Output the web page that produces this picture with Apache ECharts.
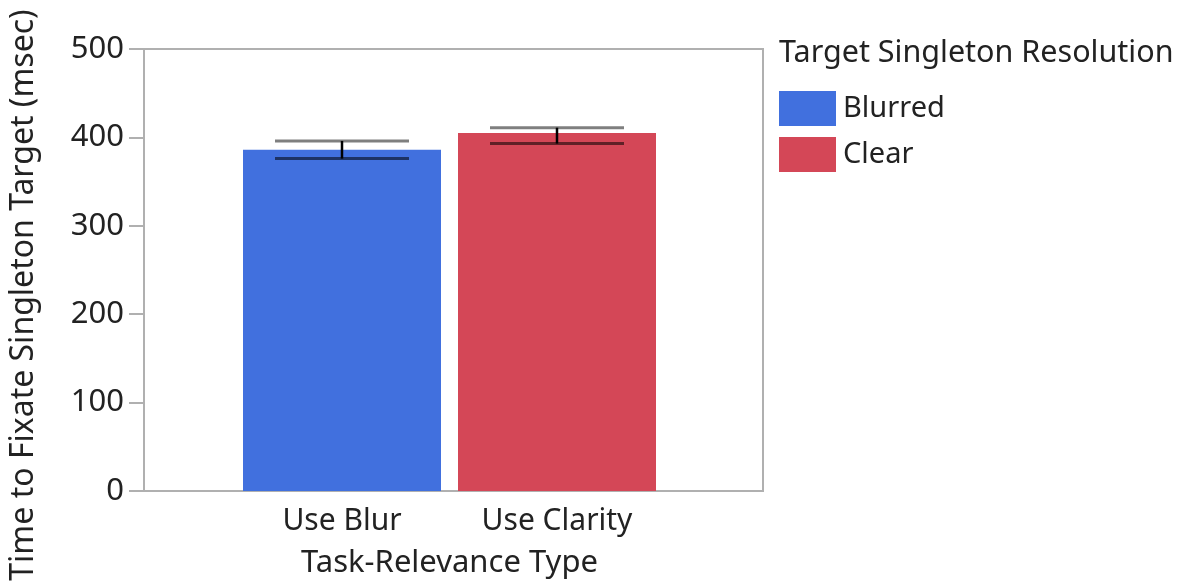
<!DOCTYPE html>
<html>
<head>
<meta charset="utf-8">
<script src="https://cdn.jsdelivr.net/npm/echarts@6/dist/echarts.min.js"></script>
<style>
  html, body { margin: 0; padding: 0; background: #fff; }
  #chart { width: 1185px; height: 584px; }
</style>
</head>
<body>
<div id="chart"></div>
<script>
// task types on x axis
const categories = ['Use Blur', 'Use Clarity'];
// one bar per task type
const seriesNames = ['Blurred', 'Clear'];
const meanValues = [386, 405];
// error bar ends (msec)
const errLow = [376, 393];
const errHigh = [396, 411];
const yTicks = [0, 100, 200, 300, 400, 500];

const colors = ['#4170de', '#d44757'];
const font = '"Noto Sans", sans-serif';

const chart = echarts.init(document.getElementById('chart'));

let barSeries = seriesNames.map(function (name, i) {
  let data = categories.map(function (c, j) { return j === i ? meanValues[i] : '-'; });
  return {
    name: name,
    type: 'bar',
    xAxisIndex: 1,
    yAxisIndex: 1,
    data: data,
    barWidth: 198,
    barGap: '-100%',
    itemStyle: { color: colors[i] },
    silent: true
  };
});

const errData = categories.map(function (c, i) { return [i, errLow[i], errHigh[i]]; });

chart.setOption({
  animation: false,
  textStyle: { fontFamily: font },
  legend: {
    orient: 'vertical',
    left: 774,
    top: 86,
    itemWidth: 57,
    itemHeight: 35,
    itemGap: 11,
    icon: 'rect',
    data: seriesNames,
    textStyle: { fontSize: 29, color: '#222', fontFamily: font, padding: [2, 0, 0, 2] }
  },
  title: {
    text: 'Target Singleton Resolution',
    left: 774,
    top: 33,
    textStyle: { fontSize: 30.5, fontWeight: 'normal', color: '#222', fontFamily: font }
  },
  grid: [
    // frame grid
    { left: 143, right: 422, top: 49, bottom: 93, show: true, borderColor: '#b0b0b0', borderWidth: 2 },
    // bar grid
    { left: 234.5, width: 430, top: 49, bottom: 93 }
  ],
  xAxis: [
    {
      gridIndex: 0,
      type: 'value',
      min: 0,
      max: 1,
      axisLine: { show: true, onZero: false, lineStyle: { color: '#b0b0b0', width: 2 } },
      axisTick: { show: false },
      axisLabel: { show: false },
      splitLine: { show: false }
    },
    {
      gridIndex: 1,
      type: 'category',
      data: categories,
      name: 'Task-Relevance Type',
      nameLocation: 'middle',
      nameGap: 57,
      nameTextStyle: { fontSize: 31, color: '#222', fontFamily: font },
      axisLine: { show: false },
      axisTick: { show: false },
      axisLabel: { fontSize: 30, color: '#222', margin: 15, fontFamily: font }
    }
  ],
  yAxis: [
    {
      gridIndex: 0,
      type: 'value',
      min: 0,
      max: 500,
      interval: 100,
      name: 'Time to Fixate Singleton Target (msec)',
      nameLocation: 'middle',
      nameGap: 104,
      nameTextStyle: { fontSize: 32, color: '#222', fontFamily: font, padding: [0, 50, 0, 0] },
      axisLine: { show: true, lineStyle: { color: '#b0b0b0', width: 2 } },
      axisTick: { show: true, length: 15, lineStyle: { color: '#b0b0b0', width: 2 } },
      axisLabel: {
        fontSize: 31, color: '#222', margin: 20, fontFamily: font,
        formatter: function (v) { return yTicks.indexOf(v) >= 0 ? String(v) : ''; }
      },
      splitLine: { show: false }
    },
    {
      gridIndex: 1,
      type: 'value',
      min: 0,
      max: 500,
      interval: 100,
      axisLine: { show: false },
      axisTick: { show: false },
      axisLabel: { show: false },
      splitLine: { show: false }
    }
  ],
  series: barSeries.concat([
    {
      type: 'custom',
      xAxisIndex: 1,
      yAxisIndex: 1,
      silent: true,
      z: 5,
      data: errData,
      renderItem: function (params, api) {
        let x = api.value(0);
        let top = api.coord([x, api.value(2)]);
        let bot = api.coord([x, api.value(1)]);
        let half = 67;
        return {
          type: 'group',
          children: [
            { type: 'line', shape: { x1: top[0], y1: top[1], x2: bot[0], y2: bot[1] },
              style: { stroke: '#000', lineWidth: 2.5 } },
            { type: 'line', shape: { x1: top[0] - half, y1: top[1], x2: top[0] + half, y2: top[1] },
              style: { stroke: 'rgba(0,0,0,0.5)', lineWidth: 3 } },
            { type: 'line', shape: { x1: bot[0] - half, y1: bot[1], x2: bot[0] + half, y2: bot[1] },
              style: { stroke: 'rgba(0,0,0,0.55)', lineWidth: 3 } }
          ]
        };
      }
    }
  ])
});

window.onresize = function () {
  chart.resize();
};
</script>
</body>
</html>
